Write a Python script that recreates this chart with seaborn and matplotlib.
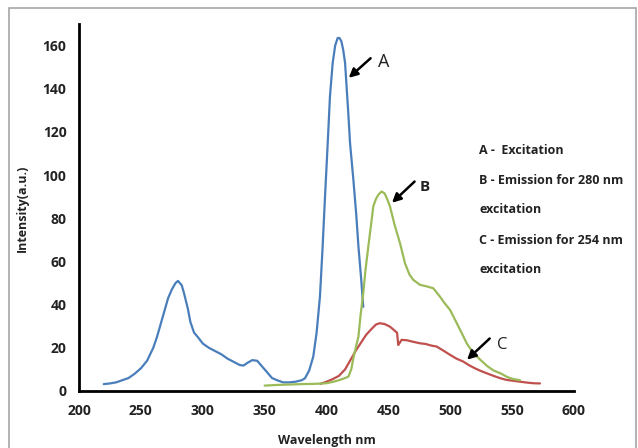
import matplotlib
matplotlib.use("Agg")
import matplotlib.pyplot as plt
import seaborn as sns
import pandas as pd
from matplotlib.patches import Rectangle

# ---- data ----
wl_a = [220, 225, 230, 235, 240, 245, 250, 255, 260, 263, 266, 269, 272, 275, 278, 280,
        283, 285, 288, 290, 293, 296, 300, 305, 310, 315, 320, 325, 330, 333, 336, 340,
        344, 347, 350, 353, 356, 360, 365, 370, 375, 380, 382.6, 386, 389.3, 392, 394.7,
        396.8, 398.8, 401, 402.8, 405, 407, 409, 410.5, 412, 413.5, 415, 417.6, 419,
        421.7, 424, 425.8, 428, 429.7]
int_a = [3.2, 3.5, 4, 5, 6, 8, 10.5, 14, 20, 25, 31, 37, 43, 47, 50, 51,
         49, 45, 38, 32, 27, 25, 22, 20, 18.5, 17, 15, 13.5, 12, 11.8, 13, 14.3,
         14, 12, 10, 8, 6, 5, 4, 4, 4.3, 5, 5.9, 9.5, 15.9, 27, 43.7,
         66, 90, 115, 136.5, 152, 160, 163.5, 163.5, 162, 158, 152, 128.8, 115,
         98, 82, 67, 52, 39]

wl_b = [350, 360, 370, 380, 390, 400, 405, 410, 414, 417.6, 420, 422, 425.8, 427.5,
        429.7, 431.5, 433.8, 436, 437.8, 440, 442, 444.5, 447, 449, 451.3, 455, 459.4,
        463.4, 467, 470.1, 475.5, 480, 486.3, 491.7, 495, 499.8, 503, 506.5, 510,
        513.3, 518, 524.4, 530, 535, 540.6, 546, 551, 556.4]
int_b = [2.5, 2.8, 3, 3.2, 3.3, 3.6, 4.2, 5, 5.8, 6.6, 10, 16, 25.2, 35,
         45.3, 56, 67, 77, 85.5, 89, 91, 92.4, 91.5, 89, 85.5, 77, 68.5,
         59.2, 54, 51.5, 49.2, 48.6, 47.6, 43.7, 41, 37.6, 34, 30, 26,
         22.1, 18, 14.4, 11.5, 9.5, 8.2, 6.5, 5.5, 5]

wl_c = [395, 400, 405, 410, 415, 420, 424, 428, 432, 436, 440, 443, 447, 451.3,
        455, 457, 458, 460.7, 465, 470, 475.5, 480, 485, 489, 495, 500, 505,
        510.6, 515, 520, 525, 529.5, 535, 540, 545, 550, 556.4, 562, 567, 572.5]
int_c = [3.3, 4.3, 5.5, 7, 10, 15, 19, 22.5, 26, 28.5, 30.8, 31.4, 31, 29.8,
         28, 27, 21.3, 23.7, 23.5, 22.8, 22.1, 21.8, 21, 20.6, 18.5, 16.7, 15,
         13.6, 12, 10.5, 9.2, 8.2, 7, 6, 5.2, 4.8, 4.3, 3.9, 3.6, 3.5]

x_ticks = [200, 250, 300, 350, 400, 450, 500, 550, 600]
y_ticks = [0, 20, 40, 60, 80, 100, 120, 140, 160]

legend_lines = ["A -  Excitation", "B - Emission for 280 nm", "excitation",
                "C - Emission for 254 nm", "excitation"]

sns.set_style("white")
plt.rcParams['font.family'] = ['Open Sans', 'DejaVu Sans']

fig = plt.figure(figsize=(6.38, 4.48), dpi=100)
ax = fig.add_axes([79/638, 1-391/448, (574-79)/638, (391-24)/448])

df_a = pd.DataFrame({"wl": wl_a, "I": int_a})
df_b = pd.DataFrame({"wl": wl_b, "I": int_b})
df_c = pd.DataFrame({"wl": wl_c, "I": int_c})

sns.lineplot(data=df_a, x="wl", y="I", ax=ax, color="#4a7ebb", lw=1.6)
sns.lineplot(data=df_c, x="wl", y="I", ax=ax, color="#c0504d", lw=1.6)
sns.lineplot(data=df_b, x="wl", y="I", ax=ax, color="#9bbb59", lw=1.6)

ax.set_xlim(200, 600)
ax.set_ylim(0, 170)
ax.set_xticks(x_ticks)
ax.set_yticks(y_ticks)
ax.set_xlabel("")
ax.set_ylabel("")
for s in ["top", "right"]:
    ax.spines[s].set_visible(False)
for s in ["left", "bottom"]:
    ax.spines[s].set_color("black")
    ax.spines[s].set_linewidth(2)
ax.tick_params(axis="x", direction="inout", length=7, width=2, labelsize=10, pad=6)
ax.tick_params(axis="y", direction="out", length=5, width=2, labelsize=10, pad=4)
for lab in ax.get_xticklabels() + ax.get_yticklabels():
    lab.set_fontweight("bold")
    lab.set_color("#222222")

# annotations
arrowprops = dict(arrowstyle="-|>", color="black", lw=1.8, mutation_scale=13)
ax.annotate("", xy=(416.3, 144.2), xytext=(437.3, 155), arrowprops=arrowprops)
ax.annotate("", xy=(451.3, 86.3), xytext=(472.8, 97.9), arrowprops=arrowprops)
ax.annotate("", xy=(511.9, 13.6), xytext=(533.5, 25.2), arrowprops=arrowprops)
ax.text(446, 152.6, "A", fontsize=13, ha="center", va="center", color="#222222")
ax.text(479.6, 94.4, "B", fontsize=11, ha="center", va="center", fontweight="bold", color="#222222")
ax.text(541.8, 21.3, "C", fontsize=12, ha="center", va="center", color="#222222")

# legend text block
ys = [150, 180, 209.5, 240, 269.5]
for t, yy in zip(legend_lines, ys):
    fig.text(479/638, 1-yy/448, t, fontsize=9, fontweight="bold", ha="left", va="center",
             color="#222222")

# axis titles
fig.text(22/638, 1-208/448, "Intensity(a.u.)", rotation=90, fontsize=9, fontweight="bold",
         ha="center", va="center", color="#222222")
fig.text(327/638, 1-447/448, "Wavelength nm", fontsize=9, fontweight="bold",
         ha="center", va="bottom", color="#222222")

# chart frame
fig.patches.append(Rectangle((9/638, -0.05), 627/638, 1.05-8/448, transform=fig.transFigure,
                             fill=False, edgecolor="#a6a6a6", lw=1.2))

fig.savefig("out.png", dpi=100)
